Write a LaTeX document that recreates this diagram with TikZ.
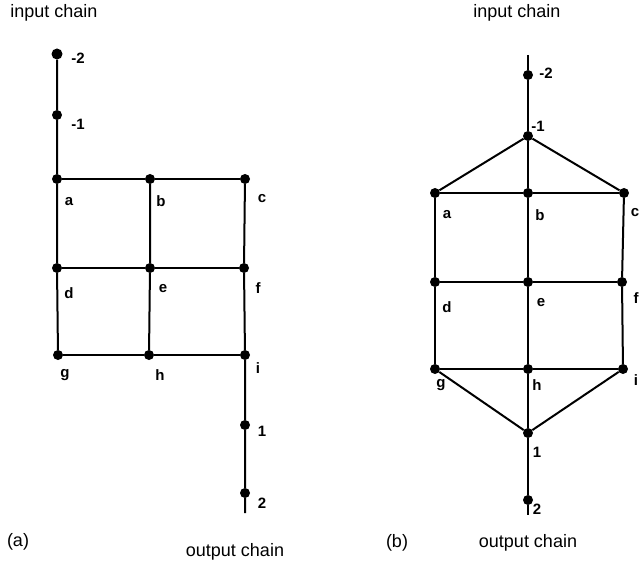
\documentclass[tikz,border=0pt]{standalone}
\usepackage{fontspec}
\setmainfont{Liberation Sans}
\usetikzlibrary{positioning}
\tikzset{dot/.style={circle,fill=black,inner sep=0pt,minimum size=10pt},
  edge/.style={line width=2pt,black},
  lbl/.style={font=\fontsize{15}{17}\selectfont\bfseries,inner sep=0pt},
  caption/.style={font=\fontsize{18}{20}\selectfont,inner sep=0pt}}
\begin{document}
\begin{tikzpicture}[x=1pt,y=-1pt]
\useasboundingbox (0,0) rectangle (640,564);
% panel (a)
\node[caption] (Lin) at (54,13) {input chain};
\node[caption] (Lout) at (235,552) {output chain};
\node[caption] (Ltag) at (18,542) {(a)};
\node[dot,minimum size=11pt] (Lm2) at (57,54) {};
\node[dot] (Lm1) at (57,115) {};
\foreach \n/\x/\y in {a/57/179,b/150/179,c/245/179,d/57/268,e/150/268,f/244/268,
  g/58/355,h/149/355,i/245/355,1/245/425,2/245/493}
  \node[dot] (L\n) at (\x,\y) {};
\coordinate (Lend) at (245,513);
\foreach \n/\t/\x/\y in {m2/-2/78/58,m1/-1/78/124,a/a/69/202,b/b/161/201,c/c/262/199,
  d/d/69/293,e/e/163/289,f/f/258/288,g/g/65/375,h/h/160/375,i/i/258/368,
  1/1/262/431,2/2/262/503}
  \node[lbl] (Lt\n) at (\x,\y) {\t};
\draw[edge] (Lm2) -- (Lm1) -- (La) -- (Ld) -- (Lg);
\draw[edge] (Lb) -- (Le) -- (Lh);
\draw[edge] (Lc) -- (Lf) -- (Li) -- (L1) -- (L2) -- (Lend);
\draw[edge] (La) -- (Lb) -- (Lc);
\draw[edge] (Ld) -- (Le) -- (Lf);
\draw[edge] (Lg) -- (Lh) -- (Li);
% panel (b)
\node[caption] (Rin) at (517,13) {input chain};
\node[caption] (Rout) at (528,543) {output chain};
\node[caption] (Rtag) at (397,543) {(b)};
\coordinate (Rtop) at (528,55);
\foreach \n/\x/\y in {m2/528/75,m1/528/136,a/435/193,b/528/193,c/624/193,
  d/435/282,e/528/282,f/622/282,g/435/369,h/528/369,i/623/369,1/528/433,2/528/500}
  \node[dot] (R\n) at (\x,\y) {};
\coordinate (Rend) at (528,515);
\foreach \n/\t/\x/\y in {m2/-2/546/73,m1/-1/538/126,a/a/447/215,b/b/540/215,c/c/635/213,
  d/d/447/307,e/e/541/303,f/f/636/298,g/g/441/385,h/h/537/385,i/i/636/380,
  1/1/537/452,2/2/537/509}
  \node[lbl] (Rt\n) at (\x,\y) {\t};
\draw[edge] (Rtop) -- (Rm2) -- (Rm1) -- (Rb) -- (Re) -- (Rh) -- (R1) -- (R2) -- (Rend);
\draw[edge] (Ra) -- (Rm1) -- (Rc);
\draw[edge] (Rg) -- (R1) -- (Ri);
\draw[edge] (Ra) -- (Rd) -- (Rg);
\draw[edge] (Rc) -- (Rf) -- (Ri);
\draw[edge] (Ra) -- (Rb) -- (Rc);
\draw[edge] (Rd) -- (Re) -- (Rf);
\draw[edge] (Rg) -- (Rh) -- (Ri);
\end{tikzpicture}
\end{document}
